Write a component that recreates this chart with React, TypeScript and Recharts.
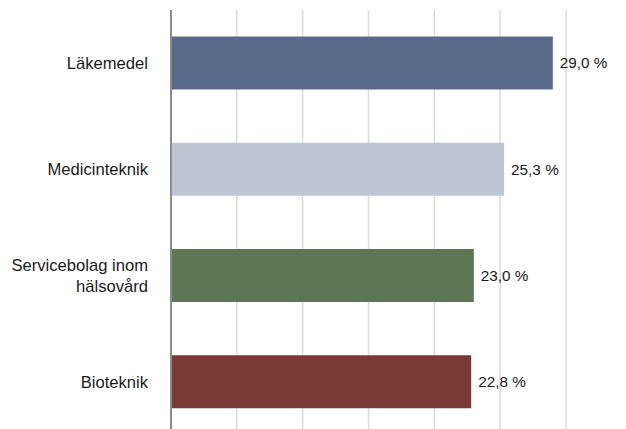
import React from "react";
import { BarChart, Bar, XAxis, YAxis, CartesianGrid, Cell, LabelList } from "recharts";

const categories = ["Läkemedel", "Medicinteknik", "Servicebolag inom hälsovård", "Bioteknik"];
const values = [29.0, 25.3, 23.0, 22.8];
const colors = ["#5a6a8b", "#bfc5d1", "#5e7654", "#7a3a34"];
const xTicks = [0, 5, 10, 15, 20, 25, 30];
const wrapLabels: Record<string, string[]> = {
  "Servicebolag inom hälsovård": ["Servicebolag inom", "hälsovård"],
};

const data = categories.map((c, i) => ({ name: c, value: values[i] }));

const fmt = (v: number) => `${v.toFixed(1).replace(".", ",")} %`;

const CatTick = (props: any) => {
  const { x, y, payload } = props;
  const lines = wrapLabels[payload.value] || [payload.value];
  const lh = 21;
  const start = -((lines.length - 1) * lh) / 2;
  return (
    <text x={x} y={y} textAnchor="end" fill="#1a1a1a" fontSize={16.6} fontFamily="Liberation Sans, Arial, sans-serif">
      {lines.map((l, i) => (
        <tspan key={i} x={x} dy={i === 0 ? start + 5.8 : lh}>
          {l}
        </tspan>
      ))}
    </text>
  );
};

export default function App() {
  return (
    <div style={{ position: "absolute", left: 0, top: 0, width: 626, height: 429, overflow: "hidden", background: "#fff" }}>
      <BarChart
        width={626}
        height={441}
        data={data}
        layout="vertical"
        margin={{ top: 10, right: 60, bottom: 6, left: 0 }}
        barCategoryGap="25%"
      >
        <CartesianGrid horizontal={false} vertical={true} stroke="#dcdcdc" strokeWidth={1.5} />
        <XAxis type="number" domain={[0, 30]} ticks={xTicks} hide />
        <YAxis
          type="category"
          dataKey="name"
          width={171}
          tickSize={0}
          tickMargin={23}
          tickLine={false}
          axisLine={{ stroke: "#8c8c8c", strokeWidth: 2 }}
          tick={<CatTick />}
          interval={0}
        />
        <Bar dataKey="value" isAnimationActive={false}>
          {data.map((d, i) => (
            <Cell key={i} fill={colors[i]} />
          ))}
          <LabelList
            dataKey="value"
            position="right"
            offset={7}
            formatter={(v: any) => fmt(Number(v))}
            style={{ fill: "#1a1a1a", fontSize: 15.3, fontFamily: "Liberation Sans, Arial, sans-serif" }}
          />
        </Bar>
      </BarChart>
    </div>
  );
}
